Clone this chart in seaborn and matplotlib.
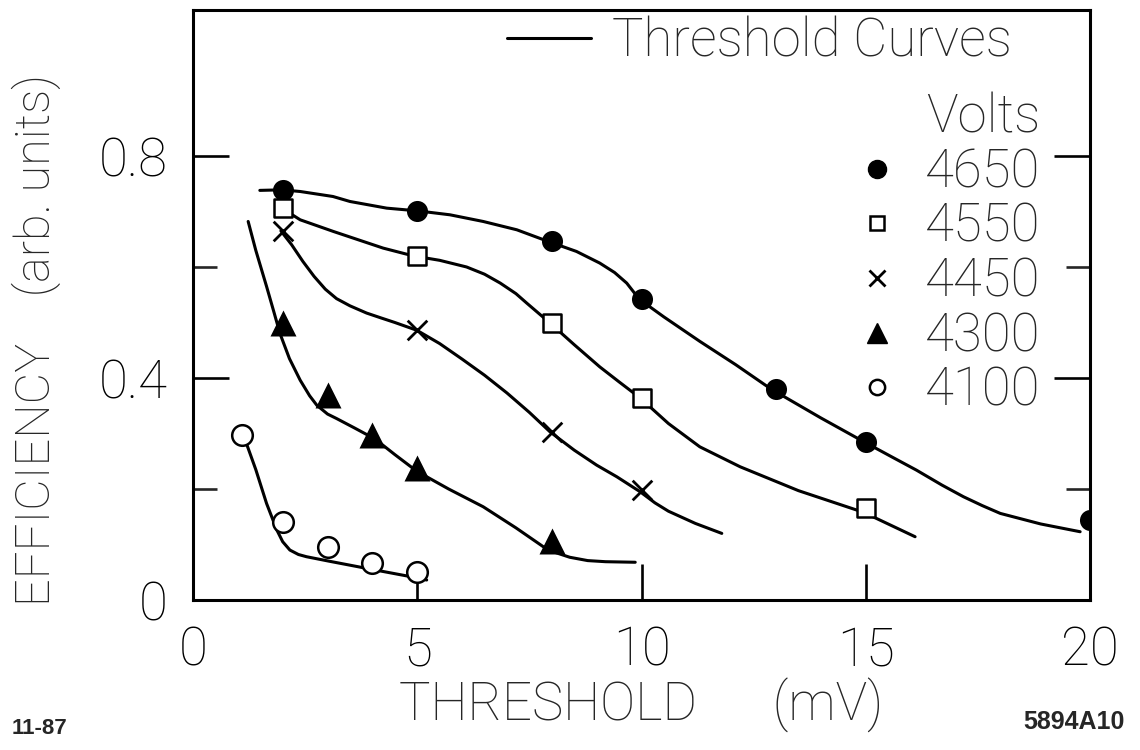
import matplotlib
matplotlib.use("Agg")
import matplotlib.pyplot as plt
import seaborn as sns
import pandas as pd
from matplotlib.lines import Line2D
from matplotlib.ticker import FixedLocator

# ---------------- data: measured points (threshold mV, efficiency) ----------------
volts = ["4650", "4550", "4450", "4300", "4100"]

thr_4650 = [2, 5, 8, 10, 13, 15, 20]
eff_4650 = [0.739, 0.701, 0.646, 0.542, 0.381, 0.285, 0.144]

thr_4550 = [2, 5, 8, 10, 15]
eff_4550 = [0.706, 0.620, 0.499, 0.364, 0.165]

thr_4450 = [2, 5, 8, 10]
eff_4450 = [0.665, 0.486, 0.303, 0.198]

thr_4300 = [2, 3, 4, 5, 8]
eff_4300 = [0.499, 0.370, 0.297, 0.237, 0.106]

thr_4100 = [1.1, 2, 3, 4, 5]
eff_4100 = [0.298, 0.141, 0.096, 0.066, 0.051]

# ---------------- hand-drawn threshold curves ----------------
cx_4650 = [1.49, 1.98, 2.39, 3.12, 3.5, 4.32, 5.02, 5.73, 6.47, 7.22, 7.92, 8.55, 9.07, 9.4, 9.67, 9.95,
           10.5, 11.3, 12.1, 12.89, 14.0, 14.96, 15.6, 16.13, 16.7, 17.18, 17.6, 18.0, 18.9, 19.78]
cy_4650 = [0.738, 0.739, 0.736, 0.727, 0.718, 0.706, 0.701, 0.694, 0.682, 0.667, 0.646, 0.628, 0.607,
           0.590, 0.571, 0.542, 0.510, 0.466, 0.424, 0.380, 0.328, 0.285, 0.257, 0.234, 0.207, 0.186,
           0.170, 0.156, 0.137, 0.123]

cx_4550 = [1.98, 2.39, 3.13, 4.24, 4.91, 5.5, 6.1, 6.5, 6.85, 7.2, 7.44, 7.96, 8.5, 9.07, 9.5, 9.97,
           10.6, 11.3, 12.2, 13.5, 14.95, 16.1]
cy_4550 = [0.706, 0.685, 0.664, 0.634, 0.620, 0.612, 0.600, 0.587, 0.571, 0.552, 0.535, 0.499, 0.460,
           0.420, 0.393, 0.364, 0.318, 0.276, 0.240, 0.197, 0.158, 0.114]

cx_4450 = [1.96, 2.2, 2.45, 2.7, 2.95, 3.2, 3.5, 3.87, 4.2, 4.5, 4.99, 5.5, 6.0, 6.5, 7.0, 7.5, 7.96,
           8.5, 9.0, 9.45, 9.97, 10.3, 10.6, 11.2, 11.79]
cy_4450 = [0.665, 0.640, 0.610, 0.583, 0.560, 0.543, 0.530, 0.517, 0.508, 0.500, 0.486, 0.462, 0.434,
           0.405, 0.373, 0.338, 0.303, 0.270, 0.243, 0.222, 0.195, 0.175, 0.160, 0.138, 0.120]

cx_4300 = [1.23, 1.4, 1.64, 1.8, 1.94, 2.15, 2.39, 2.6, 2.76, 3.0, 3.2, 3.6, 4.06, 4.5, 4.99, 5.7,
           6.47, 7.2, 7.81, 8.1, 8.4, 8.8, 9.2, 9.86]
cy_4300 = [0.682, 0.630, 0.565, 0.520, 0.480, 0.435, 0.396, 0.368, 0.351, 0.335, 0.327, 0.310, 0.290,
           0.262, 0.232, 0.200, 0.168, 0.130, 0.096, 0.085, 0.077, 0.071, 0.069, 0.068]

cx_4100 = [1.12, 1.4, 1.64, 1.87, 2.0, 2.16, 2.35, 2.53, 3.03, 4.0, 4.99, 5.21]
cy_4100 = [0.298, 0.235, 0.174, 0.126, 0.105, 0.090, 0.082, 0.078, 0.070, 0.055, 0.040, 0.036]

x_ticks = [0, 5, 10, 15, 20]
x_tick_labels = ["0", "5", "10", "15", "20"]
y_major = [0, 0.4, 0.8]
y_major_labels = ["0", "0.4", "0.8"]
y_minor = [0.2, 0.6]

# ---------------- style ----------------
sns.set_theme(style="ticks")
FONT = ["Roboto", "DejaVu Sans"]
plt.rcParams["font.family"] = FONT
plt.rcParams["font.weight"] = "light"
FS = 38
W = "light"

fig = plt.figure(figsize=(11.4, 7.5), dpi=100)
fig.patch.set_facecolor("white")
ax = fig.add_axes([193 / 1140, 150 / 750, 897 / 1140, 590 / 750])
ax.set_facecolor("white")

LW = 2.2
curves = [(cx_4650, cy_4650), (cx_4550, cy_4550), (cx_4450, cy_4450), (cx_4300, cy_4300), (cx_4100, cy_4100)]
for cx, cy in curves:
    df = pd.DataFrame({"x": cx, "y": cy})
    sns.lineplot(data=df, x="x", y="y", ax=ax, color="black", linewidth=LW, sort=False,
                 estimator=None, legend=False)

series = [
    (thr_4650, eff_4650, dict(marker="o", s=230, color="black", edgecolor="black", linewidth=0)),
    (thr_4550, eff_4550, dict(marker="s", s=150, facecolor="white", edgecolor="black", linewidth=1.8)),
    (thr_4450, eff_4450, dict(marker="x", s=200, color="black", linewidth=2.0)),
    (thr_4300, eff_4300, dict(marker="^", s=350, color="black", edgecolor="black", linewidth=0)),
    (thr_4100, eff_4100, dict(marker="o", s=220, facecolor="white", edgecolor="black", linewidth=1.8)),
]
for xs, ys, kw in series:
    df = pd.DataFrame({"x": xs, "y": ys})
    sns.scatterplot(data=df, x="x", y="y", ax=ax, zorder=3, legend=False, **kw)

ax.set_xlim(0, 20)
ax.set_ylim(0, 1.063)

ax.set_xticks(x_ticks)
ax.set_xticklabels(x_tick_labels)
ax.yaxis.set_major_locator(FixedLocator(y_major))
ax.set_yticklabels(y_major_labels)
ax.yaxis.set_minor_locator(FixedLocator(y_minor))

for sp in ax.spines.values():
    sp.set_visible(True)
    sp.set_linewidth(2.2)
    sp.set_color("black")

ax.tick_params(axis="both", which="major", direction="in", length=26, width=1.9, colors="black",
               labelsize=FS, pad=18)
ax.tick_params(axis="y", which="both", right=True)
ax.tick_params(axis="y", which="minor", direction="in", length=17, width=1.9)
ax.tick_params(axis="x", which="both", top=False)
for lab in ax.get_xticklabels() + ax.get_yticklabels():
    lab.set_fontweight(W)

ax.set_xlabel("THRESHOLD      (mV)", fontsize=FS, fontweight=W)
ax.xaxis.label.set_va("center")
ax.xaxis.set_label_coords(0.5, (600 - 705) / 590)
ax.set_ylabel("EFFICIENCY    (arb. units)", fontsize=35, fontweight=W)
ax.yaxis.label.set_va("center")
ax.yaxis.set_label_coords((36 - 193) / 897, (600 - 340) / 590)

# legend 1: threshold curves line
h_line = Line2D([], [], color="black", linewidth=LW)
leg1 = ax.legend([h_line], ["Threshold Curves"], loc="upper right",
                 bbox_to_anchor=((1012 - 193) / 897, (600 - 16) / 590),
                 frameon=False, handlelength=1.6, handletextpad=0.4, borderpad=0,
                 borderaxespad=0, prop={"size": FS, "family": FONT, "weight": W})
ax.add_artist(leg1)

# legend 2: volts
handles = [
    Line2D([], [], marker="o", linestyle="none", color="black", markersize=13),
    Line2D([], [], marker="s", linestyle="none", markerfacecolor="white", markeredgecolor="black",
           markersize=10, markeredgewidth=1.8),
    Line2D([], [], marker="x", linestyle="none", color="black", markersize=11, markeredgewidth=2.0),
    Line2D([], [], marker="^", linestyle="none", color="black", markersize=15),
    Line2D([], [], marker="o", linestyle="none", markerfacecolor="white", markeredgecolor="black",
           markersize=11, markeredgewidth=1.8),
]
leg2 = ax.legend(handles, volts, title="Volts", loc="upper right",
                 bbox_to_anchor=((1040 - 193) / 897, (600 - 92) / 590),
                 frameon=False, handlelength=0.6, handletextpad=0.6, borderpad=0, borderaxespad=0,
                 labelspacing=0.06, alignment="right",
                 prop={"size": FS, "family": FONT, "weight": W},
                 title_fontproperties={"size": FS, "family": FONT, "weight": W})

fig.text(12 / 1140, 1 - 728 / 750, "11-87", fontsize=16, fontweight="bold", ha="left", va="center",
         family=["Liberation Sans", "DejaVu Sans"])
fig.text(1125 / 1140, 1 - 722 / 750, "5894A10", fontsize=18, fontweight="bold", ha="right", va="center",
         family=["Liberation Sans", "DejaVu Sans"])

fig.savefig("out.png", dpi=100, facecolor="white")
